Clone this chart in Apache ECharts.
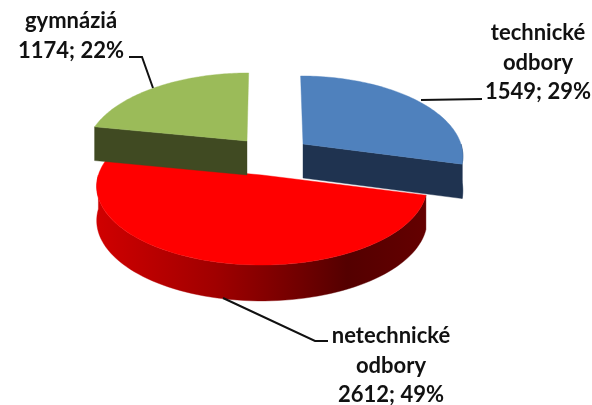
<!DOCTYPE html>
<html><head><meta charset="utf-8">
<style>html,body{margin:0;padding:0;background:#fff}#c{width:592px;height:405px}</style>
<script src="https://cdn.jsdelivr.net/npm/echarts@6/dist/echarts.min.js"></script>
</head><body><div id="c"></div>
<script>
// data, in drawing order around the pie (clockwise from 12 o'clock)
const categories = ['technické\nodbory', 'netechnické\nodbory', 'gymnáziá'];
const values = [1549, 2612, 1174];
const percents = [29, 49, 22];

// styles and layout
const topColors = ['#4F81BD', '#FF0000', '#9BBB59'];
const wallColors = ['#1F3350', null, '#404A22'];
const apexes = [[303, 144], [262, 175], [247, 141]];
const radiusScale = [0.975, 1.01, 0.985];
const drawOrder = [1, 2, 0];
const RX = 162, RY = 77.5, K = 0.139, DEPTH = 34, VX = 270;
const LINE_H = 29.5;
const labelPos = [[538, 33], [391, 336], [71, 21]];
const leaders = [
  [[421, 100], [482, 99]],
  [[223, 298], [315, 341], [328, 341]],
  [[129, 57], [142, 57], [153, 88]]
];

const total = values.reduce((a, b) => a + b, 0);
const starts = [];
values.reduce((acc, v, i) => { starts[i] = acc; return acc + v; }, 0);

function pt(i, a, r, z) {
  const apex = apexes[i];
  const u = Math.sin(a) * r, v = Math.cos(a) * r;
  const s = 1 / (1 + K * v);
  return [
    apex[0] + RX * radiusScale[i] * u * s + (apex[0] - VX) * (s - 1) * 0.6,
    apex[1] - RY * v * s + z * DEPTH * (1 + (s - 1) * 0.35)
  ];
}
function arc(i, a0, a1, z) {
  const out = [], n = 80;
  for (let k = 0; k <= n; k++) out.push(pt(i, a0 + (a1 - a0) * k / n, 1, z));
  return out;
}
const wallGradient = new echarts.graphic.LinearGradient(0, 0, 1, 0, [
  { offset: 0, color: '#D00000' },
  { offset: 0.36, color: '#A00000' },
  { offset: 0.62, color: '#700000' },
  { offset: 0.76, color: '#540000' },
  { offset: 1, color: '#640000' }
]);

function renderItem(params, api) {
  const i = drawOrder[params.dataIndex];
  const a0 = starts[i] / total * 2 * Math.PI;
  const a1 = (starts[i] + api.value(0)) / total * 2 * Math.PI;
  const children = [];
  const poly = (points, fill) => children.push({
    type: 'polygon', shape: { points }, style: { fill, stroke: fill, lineWidth: 0.4 }
  });
  const wall = wallColors[i] || wallGradient;
  // only the outer wall on the near half of the pie can be seen
  const w0 = Math.max(a0, Math.PI / 2), w1 = Math.min(a1, Math.PI * 1.5);
  if (w1 > w0) poly(arc(i, w0, w1, 0).concat(arc(i, w1, w0, 1)), wall);
  if (i === 0) {
    poly([pt(i, a1, 0, 0), pt(i, a1, 1, 0), pt(i, a1, 1, 1), pt(i, a1, 0, 1)], wall);
  }
  if (i === 2) {
    poly([pt(i, a0, 0, 0), pt(i, a0, 1, 0), pt(i, a0, 1, 1), pt(i, a0, 0, 1)], wall);
  }
  poly([pt(i, 0, 0, 0)].concat(arc(i, a0, a1, 0)), topColors[i]);
  return { type: 'group', children };
}

function renderNotes(params, api) {
  const i = params.dataIndex;
  return {
    type: 'group',
    children: [
      { type: 'polyline', shape: { points: leaders[i] },
        style: { stroke: '#111', lineWidth: 2, fill: null } },
      { type: 'text', x: labelPos[i][0], y: labelPos[i][1] - LINE_H / 2,
        style: {
          text: categories[i] + '\n' + api.value(0) + '; ' + percents[i] + '%',
          fill: '#111', font: 'bold 22px Lato', lineHeight: LINE_H,
          align: 'center', verticalAlign: 'top'
        } }
    ]
  };
}

const chart = echarts.init(document.getElementById('c'), null, { renderer: 'canvas' });
chart.setOption({
  animation: false,
  backgroundColor: '#fff',
  series: [
    { type: 'custom', coordinateSystem: 'none', renderItem,
      data: drawOrder.map(i => [values[i]]), silent: true },
    { type: 'custom', coordinateSystem: 'none', renderItem: renderNotes,
      data: values.map(v => [v]), silent: true }
  ]
});
</script></body></html>
